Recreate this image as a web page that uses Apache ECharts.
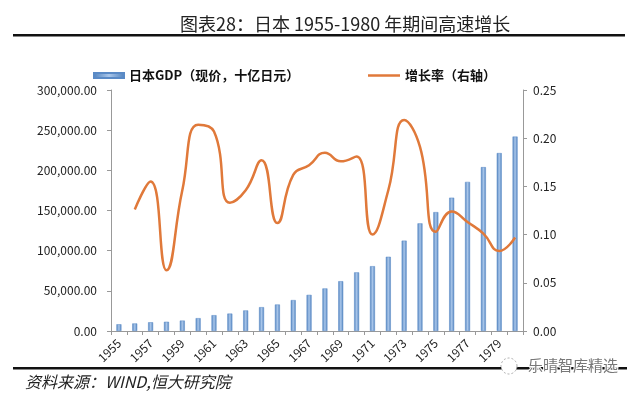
<!DOCTYPE html>
<html><head><meta charset="utf-8">
<script src="https://cdn.jsdelivr.net/npm/echarts@6/dist/echarts.min.js"></script>
<style>html,body{margin:0;padding:0;background:#fff}#c{width:640px;height:396px}</style>
</head><body><div id="c"></div>
<script>
var years = ['1955','1956','1957','1958','1959','1960','1961','1962','1963','1964','1965','1966','1967','1968','1969','1970','1971','1972','1973','1974','1975','1976','1977','1978','1979','1980'];
var gdp = [8400,9400,10900,11500,13000,16000,19700,21700,25600,29700,33000,38500,45000,53000,62000,73000,80700,92400,112500,134000,148000,166000,185600,204000,221500,242000];
var growth = [null,0.126,0.155,0.063,0.146,0.214,0.207,0.133,0.146,0.177,0.112,0.162,0.172,0.185,0.176,0.181,0.100,0.146,0.219,0.191,0.103,0.124,0.113,0.101,0.083,0.097];
var leftTicks = [0,50000,100000,150000,200000,250000,300000];
var rightTicks = [0,0.05,0.10,0.15,0.20,0.25];

function fmtThousands(v){
  var s = Math.round(v).toString().replace(/\B(?=(\d{3})+(?!\d))/g, ',');
  return s + '.00';
}
var chart = echarts.init(document.getElementById('c'));
var font = '"Noto Sans CJK SC", "Noto Sans", sans-serif';
var legendText = {fontSize:13,fontWeight:'bold',color:'#111',fontFamily:font};
chart.setOption({
  animation:false,
  textStyle:{fontFamily:font},
  grid:{left:111,right:117,top:90,bottom:65},
  legend:[{
    left:88, top:64, itemWidth:30, itemHeight:5, itemGap:4,
    textStyle:legendText,
    data:[{name:'日本GDP（现价，十亿日元）',icon:'rect'}]
  },{
    left:363, top:64, itemWidth:32, itemHeight:2.5,
    textStyle:legendText,
    data:[{name:'增长率（右轴）',icon:'rect'}]
  }],
  xAxis:{
    type:'category', data:years, boundaryGap:true,
    axisLine:{lineStyle:{color:'#999'}},
    axisTick:{show:true,alignWithLabel:false,interval:0,length:4,lineStyle:{color:'#999'}},
    axisLabel:{interval:1,rotate:45,fontSize:12,color:'#222',margin:10}
  },
  yAxis:[{
    type:'value', min:0, max:300000, interval:50000,
    axisLine:{show:true,lineStyle:{color:'#999'}},
    axisTick:{show:true,length:4,lineStyle:{color:'#999'}},
    splitLine:{show:false},
    axisLabel:{fontSize:12,color:'#222',margin:14,formatter:fmtThousands}
  },{
    type:'value', min:0, max:0.25, interval:0.05, position:'right',
    axisLine:{show:true,lineStyle:{color:'#999'}},
    axisTick:{show:true,length:4,lineStyle:{color:'#999'}},
    splitLine:{show:false},
    axisLabel:{fontSize:12,color:'#222',margin:10,formatter:function(v){return v.toFixed(2);}}
  }],
  series:[{
    name:'日本GDP（现价，十亿日元）', type:'bar', data:gdp, barWidth:5,
    itemStyle:{
      color:new echarts.graphic.LinearGradient(0,0,1,0,[{offset:0,color:'#4F81BD'},{offset:0.5,color:'#A9C6EA'},{offset:1,color:'#4F81BD'}]),
      borderColor:'#5A8AC6', borderWidth:0.5
    }
  },{
    name:'增长率（右轴）', type:'line', yAxisIndex:1, data:growth, smooth:0.5,
    showSymbol:false, symbol:'none', connectNulls:false,
    lineStyle:{color:'#E0793A',width:2.5}, itemStyle:{color:'#E0793A'}
  }],
  graphic:[
    {type:'text',left:180,top:15,style:{text:'图表28：日本 1955-1980 年期间高速增长',font:'18px "Noto Sans CJK SC", sans-serif',fill:'#222'}},
    {type:'rect',shape:{x:13,y:34,width:612,height:2.5},style:{fill:'#111'}},
    {type:'rect',shape:{x:13,y:367,width:614,height:2.5},style:{fill:'#111'}},
    {type:'text',left:25,top:374,style:{text:'资料来源：WIND,恒大研究院',font:'italic 16px "Noto Sans CJK SC", sans-serif',fill:'#222'}},
    {type:'circle',shape:{cx:509,cy:366,r:8},style:{fill:'#fff',stroke:'#aaa',lineWidth:1,lineDash:[2,2]}},
    {type:'text',left:527,top:357,style:{text:'乐晴智库精选',font:'15px "Noto Sans CJK SC", sans-serif',fill:'#777',stroke:'#fff',lineWidth:2}}
  ]
});
</script></body></html>
